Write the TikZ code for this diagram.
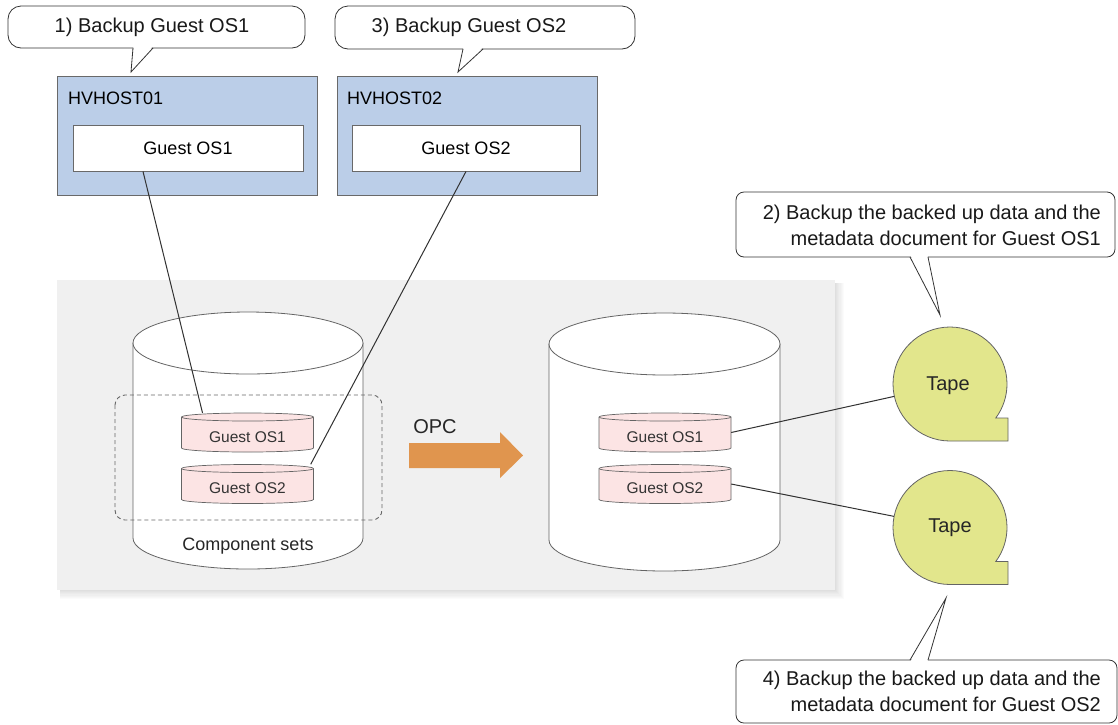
\documentclass[tikz,border=0pt]{standalone}
\usepackage{fontspec}
\setmainfont{Liberation Sans}
\definecolor{linec}{RGB}{50,50,50}
\definecolor{hostblue}{RGB}{187,206,232}
\definecolor{hostb}{RGB}{105,105,105}
\definecolor{panel}{RGB}{240,240,240}
\definecolor{pinkc}{RGB}{252,228,228}
\definecolor{tapec}{RGB}{226,230,140}
\definecolor{orangec}{RGB}{224,149,78}
\definecolor{edgec}{RGB}{100,100,100}
\newcommand\fcall{\fontsize{20}{26}\selectfont}
\newcommand\fmid{\fontsize{18}{22}\selectfont}
\newcommand\fsmall{\fontsize{15.5}{18}\selectfont}
\newcommand\bigcyl[4]{%
  \filldraw[cylst] ({#1-#4},#2) -- ({#1-#4},#3) arc[start angle=180,end angle=0,x radius=#4,y radius=31]
    -- ({#1+#4},#2) arc[start angle=0,end angle=-180,x radius=#4,y radius=31] -- cycle;
  \draw[cylst] ({#1-#4},#2) arc[start angle=180,end angle=0,x radius=#4,y radius=31];}
\newcommand\scyl[4]{%
  \filldraw[scylst] ({#2-66},{#3-15.5}) -- ({#2-66},{#3+15.5}) arc[start angle=180,end angle=0,x radius=66,y radius=4]
    -- ({#2+66},{#3-15.5}) arc[start angle=0,end angle=-180,x radius=66,y radius=4] -- cycle;
  \draw[scylst] ({#2-66},{#3-15.5}) arc[start angle=180,end angle=0,x radius=66,y radius=4];
  \node[inner sep=0,minimum width=132,minimum height=39] (#1) at (#2,#3) {};
  \node[font=\fsmall,text=black!80] (#1t) at ({#2},{#3+4.5}) {#4};}
\newcommand\tapeshape[2]{%
  \filldraw[tapest] ({#1},{#2+57}) arc[start angle=90,end angle=396.6,radius=57]
    -- ({#1+58},{#2+34}) -- ({#1+58},{#2+57}) -- cycle;}
\begin{document}
\begin{tikzpicture}[x=1pt,y=-1pt,
  ln/.style={draw=linec,line width=1pt},
  cylst/.style={draw=edgec,fill=white,line width=0.8pt},
  scylst/.style={draw=edgec,fill=pinkc,line width=0.7pt},
  tapest/.style={draw=edgec,fill=tapec,line width=0.8pt},
  hostbox/.style={draw=hostb,fill=hostblue,line width=0.9pt,minimum width=260,minimum height=119,inner sep=0},
  guestbox/.style={draw=hostb,fill=white,line width=0.9pt,minimum height=46,inner sep=0,font=\fmid},
  callbox/.style={draw=black!80,fill=white,line width=0.8pt,inner sep=0},
  calltxt/.style={font=\fcall,inner sep=0,text=black!90},
]
\useasboundingbox (0,0) rectangle (1118,724);
\fill[white] (0,0) rectangle (1118,724);

% panel with soft shadow
\foreach \i in {1,...,8}
  \fill[black,opacity=0.014] (60,283) rectangle ({835+\i*1.1},{590+\i*1.1});
\fill[panel] (57,280) rectangle (835,590);

% big cylinders
\bigcyl{248}{343}{538}{115}
\bigcyl{664.5}{344}{540}{115.5}

% component set frame
\draw[draw=black!60,line width=0.9pt,dash pattern=on 4pt off 3pt,rounded corners=10pt] (115,395) rectangle (382,520);
\node[font=\fmid,text=black!85] (comp) at (248,546) {Component sets};

% small cylinders
\scyl{c1l}{247.5}{432.5}{Guest OS1}
\scyl{c2l}{247.5}{484}{Guest OS2}
\scyl{c1r}{665}{432.5}{Guest OS1}
\scyl{c2r}{665}{484}{Guest OS2}

% OPC arrow
\fill[orangec] (409,443) -- (500,443) -- (500,432) -- (523,455.5) -- (500,478) -- (500,468) -- (409,468) -- cycle;
\node[font=\fcall,text=black!85] (opc) at (435,427) {OPC};

% hosts
\node[hostbox] (host1) at (187,135.5) {};
\node[hostbox] (host2) at (467,135.5) {};
\node[font=\fmid,anchor=west,inner sep=0] (h1lab) at (68,98) {HVHOST01};
\node[font=\fmid,anchor=west,inner sep=0] (h2lab) at (347,98) {HVHOST02};
\node[guestbox,minimum width=230] (g1) at (188,148) {Guest OS1};
\node[guestbox,minimum width=228] (g2) at (466,148) {Guest OS2};

% connectors
\draw[ln] ([xshift=-45pt]g1.south) -- ([xshift=-45pt]c1l.north);
\draw[ln] (g2.south) -- ([xshift=-3pt]c2l.north east);

% tapes
\path (950,384) coordinate (tape1pos) (950,527.5) coordinate (tape2pos);
\tapeshape{950}{384}
\tapeshape{950}{527.5}
\node[circle,minimum size=114,inner sep=0] (tape1) at (tape1pos) {};
\node[circle,minimum size=114,inner sep=0] (tape2) at (tape2pos) {};
\node[font=\fcall,text=black!85] (tape1t) at (948,386) {Tape};
\node[font=\fcall,text=black!85] (tape2t) at (950,528) {Tape};
\draw[ln] (c1r.east) -- (tape1);
\draw[ln] (c2r.east) -- (tape2);

% callout 1
\node[callbox,rounded corners=13pt,minimum width=297,minimum height=42] (call1) at (156.5,27) {};
\fill[white] (133.5,46.5) -- (131,72) -- (152.5,46.5) -- cycle;
\draw[draw=black!80,line width=0.8pt] (133,48) -- (131,72) -- (153,48);
\node[calltxt] (call1t) at (152,27) {1) Backup Guest OS1};

% callout 3
\node[callbox,rounded corners=13pt,minimum width=300,minimum height=43] (call3) at (485,27.5) {};
\fill[white] (463.5,47.5) -- (458,72) -- (482.5,47.5) -- cycle;
\draw[draw=black!80,line width=0.8pt] (463,49) -- (458,72) -- (483,49);
\node[calltxt] (call3t) at (469,27.5) {3) Backup Guest OS2};

% callout 2
\node[callbox,rounded corners=8pt,minimum width=379,minimum height=65] (call2) at (925.5,224.5) {};
\fill[white] (910.5,255.5) -- (940,315) -- (927.5,255.5) -- cycle;
\draw[draw=black!80,line width=0.8pt] (910,257) -- (940,315) -- (928,257);
\node[calltxt,align=right,anchor=east] (call2t) at (1101,225) {2) Backup the backed up data and the\\metadata document for Guest OS1};

% callout 4
\node[callbox,rounded corners=8pt,minimum width=381,minimum height=63] (call4) at (926.5,691.5) {};
\fill[white] (910.5,661.5) -- (946,598) -- (927.5,661.5) -- cycle;
\draw[draw=black!80,line width=0.8pt] (910,660) -- (946,598) -- (928,660);
\node[calltxt,align=right,anchor=east] (call4t) at (1101,691.5) {4) Backup the backed up data and the\\metadata document for Guest OS2};
\end{tikzpicture}
\end{document}
